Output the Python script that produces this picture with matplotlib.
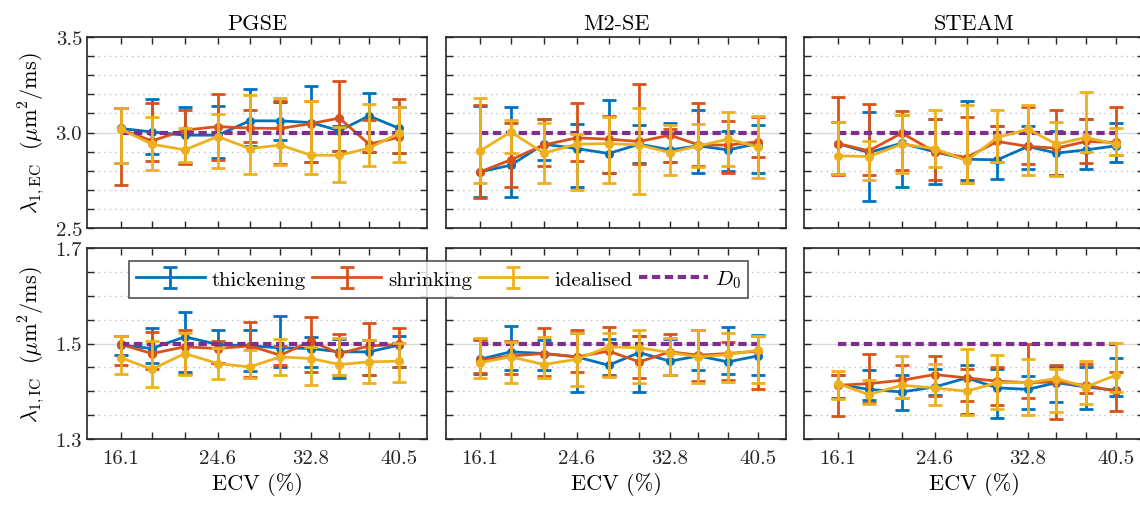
import matplotlib
matplotlib.use("Agg")
import matplotlib.pyplot as plt
from matplotlib.ticker import MultipleLocator
from matplotlib.container import ErrorbarContainer
from matplotlib.legend_handler import HandlerErrorbar

plt.rcParams['font.family'] = 'cmr10'
plt.rcParams['mathtext.fontset'] = 'cm'
plt.rcParams['axes.unicode_minus'] = False
plt.rcParams['axes.formatter.use_mathtext'] = True

# ECV values (%)
ecv = [16.1, 18.8, 21.7, 24.6, 27.4, 30.1, 32.8, 35.3, 37.9, 40.5]
ecv_labels = ['16.1', '', '', '24.6', '', '', '32.8', '', '', '40.5']
titles = ['PGSE', 'M2-SE', 'STEAM']
series_names = ['thickening', 'shrinking', 'idealised']
d0_ec = 3.0
d0_ic = 1.5

# each series: [mean, lower end, upper end]
# --- lambda_1,EC ---
pgse_ec_thick = [[3.021, 3.003, 2.986, 2.986, 3.061, 3.061, 3.052, 3.009, 3.087, 3.023],
                 [2.838, 2.887, 2.840, 2.869, 2.930, 2.960, 2.846, 2.904, 2.900, 2.895],
                 [3.129, 3.178, 3.131, 3.140, 3.230, 3.160, 3.244, 3.035, 3.209, 3.136]]
pgse_ec_shrink = [[3.017, 2.956, 3.012, 3.031, 3.023, 3.021, 3.047, 3.075, 2.939, 2.974],
                  [2.724, 2.850, 2.834, 2.857, 2.951, 2.834, 2.846, 2.904, 2.899, 2.895],
                  [3.130, 3.154, 3.120, 3.200, 3.120, 3.164, 3.166, 3.270, 3.066, 3.178]]
pgse_ec_ideal = [[3.017, 2.939, 2.909, 2.979, 2.916, 2.934, 2.881, 2.881, 2.918, 2.995],
                 [2.838, 2.803, 2.846, 2.813, 2.782, 2.829, 2.785, 2.742, 2.825, 2.846],
                 [3.129, 3.079, 3.024, 3.099, 3.195, 3.183, 3.166, 3.031, 3.148, 3.136]]

m2_ec_thick = [[2.794, 2.829, 2.939, 2.916, 2.890, 2.939, 2.909, 2.930, 2.909, 2.942],
               [2.660, 2.663, 2.855, 2.717, 2.787, 2.840, 2.843, 2.790, 2.800, 2.787],
               [3.140, 3.134, 3.073, 3.044, 3.171, 3.040, 3.052, 3.119, 3.009, 3.040]]
m2_ec_shrink = [[2.794, 2.857, 2.935, 2.972, 2.965, 2.953, 2.986, 2.935, 2.934, 2.951],
                [2.656, 2.717, 2.822, 2.852, 2.787, 2.834, 2.843, 2.822, 2.790, 2.874],
                [3.143, 3.049, 3.073, 3.154, 3.084, 3.253, 3.017, 3.157, 3.061, 3.079]]
m2_ec_ideal = [[2.904, 3.003, 2.892, 2.939, 2.942, 2.935, 2.895, 2.930, 2.965, 2.925],
               [2.735, 2.892, 2.738, 2.700, 2.735, 2.677, 2.778, 2.817, 2.825, 2.764],
               [3.180, 3.065, 3.049, 2.991, 3.079, 3.127, 3.038, 3.044, 3.105, 3.087]]

steam_ec_thick = [[2.942, 2.895, 2.944, 2.899, 2.860, 2.857, 2.927, 2.892, 2.909, 2.930],
                  [2.782, 2.642, 2.717, 2.729, 2.753, 2.759, 2.808, 2.778, 2.808, 2.846],
                  [3.056, 3.105, 3.090, 3.070, 3.166, 3.035, 3.035, 3.009, 3.070, 3.052]]
steam_ec_shrink = [[2.942, 2.904, 2.997, 2.899, 2.869, 2.953, 2.927, 2.918, 2.953, 2.948],
                   [2.780, 2.777, 2.805, 2.752, 2.735, 2.843, 2.834, 2.778, 2.838, 2.881],
                   [3.187, 3.148, 3.110, 3.070, 3.079, 3.035, 3.134, 3.119, 3.073, 3.136]]
steam_ec_ideal = [[2.878, 2.874, 2.939, 2.916, 2.852, 2.974, 3.017, 2.939, 2.974, 2.939],
                  [2.782, 2.752, 2.787, 2.817, 2.735, 2.843, 2.778, 2.773, 2.899, 2.881],
                  [3.056, 2.956, 3.091, 3.119, 3.143, 3.119, 3.143, 3.056, 3.213, 3.026]]

# --- lambda_1,IC ---
pgse_ic_thick = [[1.4965, 1.4895, 1.514, 1.498, 1.495, 1.491, 1.4895, 1.4825, 1.4825, 1.4965],
                 [1.475, 1.460, 1.440, 1.460, 1.442, 1.450, 1.451, 1.428, 1.435, 1.451],
                 [1.515, 1.533, 1.565, 1.528, 1.528, 1.558, 1.514, 1.510, 1.508, 1.516]]
pgse_ic_shrink = [[1.498, 1.479, 1.493, 1.4895, 1.495, 1.4755, 1.505, 1.479, 1.495, 1.498],
                  [1.456, 1.446, 1.437, 1.460, 1.430, 1.456, 1.440, 1.435, 1.435, 1.451],
                  [1.516, 1.5245, 1.528, 1.505, 1.5455, 1.495, 1.556, 1.519, 1.542, 1.533]]
pgse_ic_ideal = [[1.470, 1.446, 1.479, 1.458, 1.451, 1.472, 1.4685, 1.456, 1.4615, 1.463],
                 [1.437, 1.409, 1.435, 1.425, 1.428, 1.435, 1.4125, 1.4335, 1.418, 1.4195],
                 [1.516, 1.505, 1.521, 1.491, 1.486, 1.510, 1.493, 1.512, 1.507, 1.502]]

m2_ic_thick = [[1.467, 1.4825, 1.479, 1.472, 1.4545, 1.481, 1.463, 1.474, 1.4615, 1.474],
               [1.437, 1.444, 1.444, 1.3985, 1.4335, 1.3985, 1.4335, 1.444, 1.437, 1.435],
               [1.510, 1.537, 1.507, 1.523, 1.510, 1.516, 1.510, 1.528, 1.535, 1.5175]]
m2_ic_shrink = [[1.465, 1.474, 1.479, 1.472, 1.484, 1.4615, 1.4825, 1.4755, 1.479, 1.484],
                [1.4385, 1.437, 1.432, 1.440, 1.432, 1.428, 1.435, 1.421, 1.423, 1.4055],
                [1.507, 1.505, 1.533, 1.528, 1.535, 1.516, 1.519, 1.528, 1.5035, 1.516]]
m2_ic_ideal = [[1.460, 1.472, 1.456, 1.467, 1.493, 1.491, 1.481, 1.472, 1.477, 1.486],
               [1.428, 1.418, 1.428, 1.4105, 1.430, 1.418, 1.4335, 1.418, 1.4195, 1.418],
               [1.5105, 1.5035, 1.514, 1.521, 1.523, 1.528, 1.5105, 1.528, 1.521, 1.516]]

steam_ic_thick = [[1.414, 1.404, 1.3985, 1.409, 1.428, 1.407, 1.404, 1.418, 1.409, 1.402],
                  [1.385, 1.381, 1.3615, 1.3915, 1.353, 1.344, 1.3635, 1.3775, 1.362, 1.390],
                  [1.435, 1.4455, 1.435, 1.446, 1.456, 1.4475, 1.4315, 1.451, 1.451, 1.4705]]
steam_ic_shrink = [[1.4125, 1.416, 1.423, 1.435, 1.428, 1.421, 1.418, 1.4195, 1.4125, 1.400],
                   [1.348, 1.376, 1.386, 1.390, 1.379, 1.3705, 1.386, 1.3425, 1.397, 1.358],
                   [1.435, 1.477, 1.4545, 1.474, 1.446, 1.451, 1.500, 1.4545, 1.458, 1.4405]]
steam_ic_ideal = [[1.416, 1.393, 1.4125, 1.407, 1.400, 1.418, 1.418, 1.4265, 1.409, 1.4335],
                  [1.3845, 1.3725, 1.386, 1.372, 1.351, 1.362, 1.351, 1.3565, 1.374, 1.3985],
                  [1.442, 1.423, 1.474, 1.458, 1.488, 1.4755, 1.4685, 1.446, 1.463, 1.5015]]

ec_rows = [[pgse_ec_thick, pgse_ec_shrink, pgse_ec_ideal],
           [m2_ec_thick, m2_ec_shrink, m2_ec_ideal],
           [steam_ec_thick, steam_ec_shrink, steam_ec_ideal]]
ic_rows = [[pgse_ic_thick, pgse_ic_shrink, pgse_ic_ideal],
           [m2_ic_thick, m2_ic_shrink, m2_ic_ideal],
           [steam_ic_thick, steam_ic_shrink, steam_ic_ideal]]

colors = ['#0072BD', '#D95319', '#EDB120']
d0_color = '#7E2F8E'
dark = '#262626'

W, H = 1140, 510
fig = plt.figure(figsize=(W / 100, H / 100), dpi=100)

lefts = [87, 446, 804]
pw = 340
rows = [(38, 229), (249, 440)]


def draw_panel(ax, data, d0, ylim, major, minor):
    handles = []
    for k, (mean, lo, hi) in enumerate(data):
        yerr = [[m - l for m, l in zip(mean, lo)], [h - m for m, h in zip(mean, hi)]]
        eb = ax.errorbar(ecv, mean, yerr=yerr, color=colors[k], lw=2, marker='o',
                         ms=5.5, capsize=5, capthick=2, elinewidth=2,
                         zorder=2 + k if k < 2 else 5, label=series_names[k])
        handles.append(eb)
    ln, = ax.plot([ecv[0], ecv[-1]], [d0, d0], color=d0_color, lw=3,
                  ls=(0, (2, 1.1)), zorder=4.5, label='$D_0$')
    handles.append(ln)
    ax.set_xlim(13.1, 43)
    ax.set_ylim(*ylim)
    ax.set_xticks(ecv)
    ax.yaxis.set_major_locator(MultipleLocator(major))
    ax.yaxis.set_minor_locator(MultipleLocator(minor))
    ax.grid(True, axis='y', which='major', color='#d9d9d9', lw=1, ls='-', zorder=0)
    ax.grid(True, axis='y', which='minor', color='#bfbfbf', lw=1, ls=(0, (1, 3)), zorder=0)
    ax.tick_params(which='both', direction='in', top=True, right=True, length=5,
                   width=1, color=dark, labelcolor=dark, labelsize=15)
    for s in ax.spines.values():
        s.set_color(dark)
        s.set_linewidth(1.2)
    ax.set_axisbelow(True)
    return handles


handles = None
for r, (top, bot) in enumerate(rows):
    for c in range(3):
        ax = fig.add_axes([lefts[c] / W, 1 - bot / H, pw / W, (bot - top) / H])
        if r == 0:
            h = draw_panel(ax, ec_rows[c], d0_ec, (2.5, 3.5), 0.5, 0.1)
            ax.set_title(titles[c], fontsize=16, color='black', pad=6)
            ax.set_xticklabels([])
            ax.set_yticks([2.5, 3.0, 3.5])
            ax.set_yticklabels(['2.5', '3.0', '3.5'] if c == 0 else [])
            if c == 0:
                ax.set_ylabel(r'$\lambda_{1,\mathrm{EC}}\ \ (\mu\mathrm{m}^2/\mathrm{ms})$',
                              fontsize=16, labelpad=6)
        else:
            h = draw_panel(ax, ic_rows[c], d0_ic, (1.3, 1.7), 0.2, 0.05)
            ax.set_xticklabels(ecv_labels)
            ax.set_yticks([1.3, 1.5, 1.7])
            ax.set_yticklabels(['1.3', '1.5', '1.7'] if c == 0 else [])
            ax.set_xlabel('ECV (%)', fontsize=16, labelpad=4)
            ax.tick_params(axis='x', pad=7)
            if c == 0:
                ax.set_ylabel(r'$\lambda_{1,\mathrm{IC}}\ \ (\mu\mathrm{m}^2/\mathrm{ms})$',
                              fontsize=16, labelpad=6)
                handles = h


# legend glyphs without the round markers
def no_marker(legend_artist, orig):
    legend_artist.update_from(orig)
    if hasattr(legend_artist, 'get_marker') and legend_artist.get_marker() == 'o':
        legend_artist.set_marker('')


leg = fig.legend(handles, [hh.get_label() for hh in handles], ncol=4,
                 loc='center', bbox_to_anchor=((127 + 750) / 2 / W, 1 - 280.5 / H),
                 fontsize=15, frameon=True, fancybox=False, handlelength=3.3,
                 columnspacing=0.3, handletextpad=0.35, borderpad=0.35,
                 handler_map={ErrorbarContainer: HandlerErrorbar(update_func=no_marker)})
leg.get_frame().set_edgecolor(dark)
leg.get_frame().set_linewidth(1.2)

fig.savefig('out.png', dpi=100)
